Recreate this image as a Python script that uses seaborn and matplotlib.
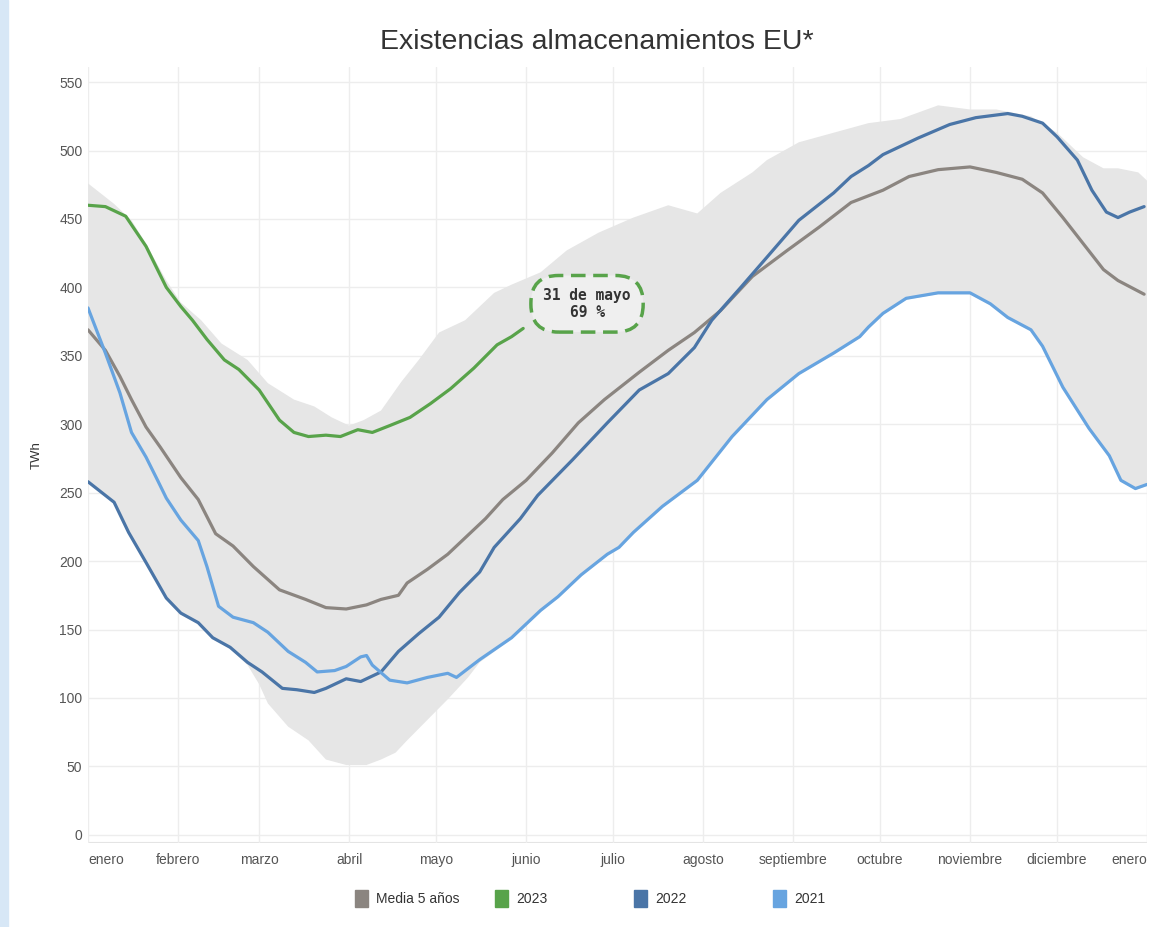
import numpy as np
import seaborn as sns
import matplotlib.pyplot as plt
from matplotlib.patches import Rectangle

# day of year (0 = 1 enero) and storage in TWh
media_days = [0, 6, 11, 15, 20, 25, 32, 38, 44, 50, 57, 66, 75, 82, 89, 96, 101,
              107, 110, 117, 124, 137, 143, 151, 160, 169, 178, 190, 200, 209, 218,
              229, 241, 252, 263, 274, 283, 293, 304, 313, 322, 329, 336, 343, 350,
              355, 364]
media_vals = [369, 354, 335, 318, 298, 283, 261, 245, 220, 211, 196, 179, 172, 166,
              165, 168, 172, 175, 184, 194, 205, 231, 245, 259, 279, 301, 318, 338,
              354, 367, 383, 408, 427, 444, 462, 471, 481, 486, 488, 484, 479, 469,
              451, 432, 413, 405, 395]

y2023_days = [0, 6, 13, 20, 27, 32, 36, 41, 47, 52, 59, 66, 71, 76, 82, 87, 93, 98,
              104, 111, 118, 125, 133, 141, 146, 150]
y2023_vals = [460, 459, 452, 430, 400, 386, 376, 362, 347, 340, 325, 303, 294, 291,
              292, 291, 296, 294, 299, 305, 315, 326, 341, 358, 364, 370]

y2022_days = [0, 9, 14, 20, 27, 32, 38, 43, 49, 55, 60, 67, 72, 78, 82, 89, 94, 101,
              107, 114, 121, 128, 135, 140, 149, 155, 167, 179, 190, 200, 209, 215,
              225, 234, 245, 257, 263, 269, 274, 286, 297, 306, 317, 322, 329, 334,
              341, 346, 351, 355, 359, 364]
y2022_vals = [258, 243, 221, 199, 173, 162, 155, 144, 137, 126, 119, 107, 106, 104,
              107, 114, 112, 119, 134, 147, 159, 177, 192, 210, 231, 248, 274, 301,
              325, 337, 356, 376, 400, 422, 449, 469, 481, 489, 497, 509, 519, 524,
              527, 525, 520, 510, 493, 471, 455, 451, 455, 459]

y2021_days = [0, 6, 11, 15, 20, 24, 27, 32, 38, 41, 45, 50, 57, 62, 69, 75, 79, 85,
              89, 94, 96, 98, 104, 110, 117, 124, 127, 135, 146, 156, 162, 170, 179,
              183, 188, 198, 210, 222, 234, 245, 257, 266, 269, 274, 282, 293, 304,
              311, 317, 325, 329, 336, 345, 352, 356, 361, 365]
y2021_vals = [385, 352, 323, 294, 276, 259, 246, 230, 215, 196, 167, 159, 155, 148,
              134, 126, 119, 120, 123, 130, 131, 124, 113, 111, 115, 118, 115, 128,
              144, 164, 174, 190, 205, 210, 221, 240, 259, 291, 318, 337, 352, 364,
              371, 381, 392, 396, 396, 388, 378, 369, 357, 327, 297, 277, 259, 253, 256]

# min / max range of the last 5 years
band_up_days = [0, 9, 15, 20, 27, 32, 39, 46, 55, 62, 71, 78, 84, 90, 95, 101, 108,
                114, 121, 130, 140, 146, 156, 165, 176, 188, 200, 210, 218, 229, 234,
                245, 257, 269, 280, 293, 304, 313, 325, 334, 343, 350, 355, 362, 365]
band_up_vals = [476, 461, 449, 432, 405, 389, 376, 359, 347, 330, 318, 313, 305, 299,
                303, 310, 331, 347, 367, 376, 396, 402, 411, 427, 440, 451, 460, 454,
                469, 484, 493, 506, 513, 520, 523, 533, 530, 530, 525, 513, 495, 487,
                487, 484, 478]
band_low_days = [0, 9, 14, 20, 27, 32, 38, 43, 49, 55, 59, 62, 69, 76, 82, 89, 96,
                 101, 106, 110, 117, 124, 131, 135, 146, 156, 162, 170, 179, 188, 198,
                 210, 222, 234, 245, 257, 266, 274, 282, 293, 304, 311, 317, 325, 329,
                 336, 345, 352, 356, 361, 365]
band_low_vals = [257, 242, 220, 198, 172, 161, 154, 143, 136, 124, 110, 96, 79, 69,
                 55, 51, 51, 55, 60, 69, 84, 99, 115, 126, 143, 163, 173, 189, 204,
                 220, 239, 258, 290, 317, 336, 351, 363, 380, 391, 395, 395, 387, 377,
                 368, 356, 326, 296, 276, 258, 252, 255]

months = ["enero", "febrero", "marzo", "abril", "mayo", "junio", "julio", "agosto",
          "septiembre", "octubre", "noviembre", "diciembre", "enero"]
month_starts = [0, 31, 59, 90, 120, 151, 181, 212, 243, 273, 304, 334, 365]

series = [
    ("Media 5 años", media_days, media_vals, "#8b8580"),
    ("2023", y2023_days, y2023_vals, "#58a34a"),
    ("2022", y2022_days, y2022_vals, "#4a75a7"),
    ("2021", y2021_days, y2021_vals, "#67a4e0"),
]

sns.set_theme(style="whitegrid")
plt.rcParams["font.family"] = ["Liberation Sans", "DejaVu Sans"]

fig = plt.figure(figsize=(11.5, 9.27), dpi=100)
fig.patch.set_facecolor("white")
fig.patches.append(Rectangle((0, 0), 0.007, 1, transform=fig.transFigure,
                             color="#d7e7f6", zorder=0))
ax = fig.add_axes([0.0765, 0.0906, 0.9209, 0.8371])
ax.set_facecolor("white")

band_x = np.r_[band_up_days, band_low_days[::-1]]
band_y = np.r_[band_up_vals, band_low_vals[::-1]]
ax.fill(band_x, band_y, color="#e6e6e6", lw=0, zorder=1)

for name, d, v, c in series:
    sns.lineplot(x=d, y=v, ax=ax, color=c, linewidth=2.3, zorder=3,
                 solid_joinstyle="round", solid_capstyle="round")

ax.text(172, 388, "31 de mayo\n69 %", ha="center", va="center",
        family="DejaVu Sans Mono", fontweight="bold", fontsize=10.5, color="#333333",
        linespacing=1.15, zorder=5,
        bbox=dict(boxstyle="round,pad=0.85,rounding_size=1.9", fc="#efefef",
                  ec="#58a34a", lw=2.5, ls=(0, (4.2, 2.2))))

ax.set_xlim(0, 365)
ax.set_ylim(-6, 561)
ax.set_yticks(range(0, 551, 50))
ax.set_xticks(month_starts)
ax.set_xticklabels(months)
lbls = ax.get_xticklabels()
lbls[0].set_horizontalalignment("left")
lbls[-1].set_horizontalalignment("right")
ax.tick_params(axis="both", length=0, colors="#555555", labelsize=10)
ax.tick_params(axis="x", pad=7)
ax.tick_params(axis="y", pad=4)
ax.grid(True, color="#ededed", linewidth=1)
for s in ax.spines.values():
    s.set_visible(False)
ax.axhline(-6, color="#e4e4e4", lw=1.5, zorder=0)
ax.set_xlabel("")
ax.set_ylabel("TWh", fontsize=9.5, color="#333333", labelpad=12)

fig.text(597 / 1150, 1 - 42 / 927, "Existencias almacenamientos EU*", ha="center",
         va="center", fontsize=20.5, color="#333333")

# legend below the chart
leg_x = [355, 495, 634, 773]
for (name, d, v, c), lx in zip(series, leg_x):
    fig.patches.append(Rectangle((lx / 1150, 1 - 907 / 927), 13 / 1150, 17 / 927,
                                 transform=fig.transFigure, color=c))
    fig.text((lx + 21) / 1150, 1 - 899 / 927, name, ha="left", va="center",
             fontsize=10, color="#333333")

fig.savefig("out.png", dpi=100)
